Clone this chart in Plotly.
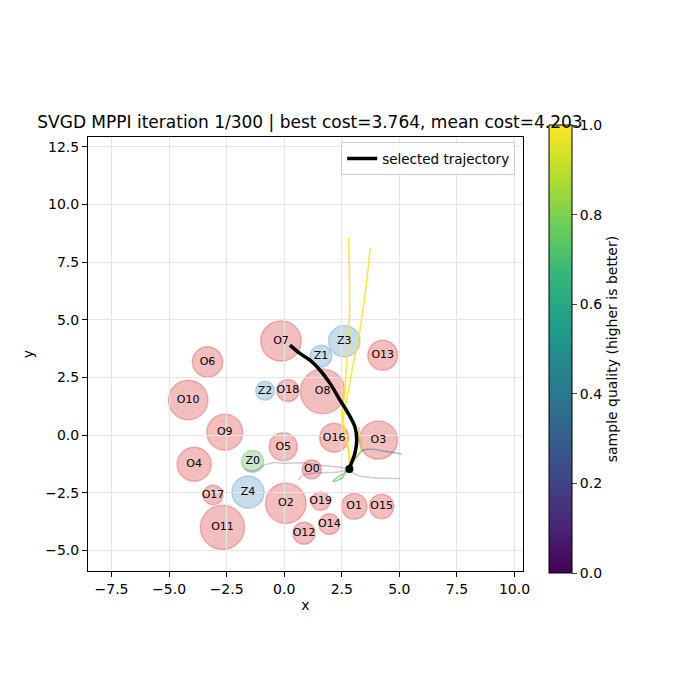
import plotly.graph_objs as go
from plotly.colors import sample_colorscale

# obstacles (red circles)
obs_names = ["O0", "O1", "O2", "O3", "O4", "O5", "O6", "O7", "O8", "O9",
             "O10", "O11", "O12", "O13", "O14", "O15", "O16", "O17", "O18", "O19"]
obs_x = [1.20, 3.04, 0.07, 4.09, -3.91, -0.04, -3.33, -0.14, 1.67, -2.58,
         -4.17, -2.68, 0.86, 4.28, 1.96, 4.23, 2.17, -3.09, 0.16, 1.58]
obs_y = [-1.49, -3.10, -2.96, -0.22, -1.27, -0.51, 3.17, 4.08, 1.89, 0.12,
         1.52, -4.01, -4.26, 3.46, -3.87, -3.10, -0.12, -2.60, 1.93, -2.87]
obs_r = [0.42, 0.56, 0.88, 0.83, 0.74, 0.61, 0.66, 0.88, 0.97, 0.78,
         0.86, 0.96, 0.48, 0.65, 0.45, 0.53, 0.63, 0.43, 0.48, 0.41]

# zones
zone_names = ["Z0", "Z1", "Z2", "Z3", "Z4"]
zone_x = [-1.37, 1.60, -0.83, 2.61, -1.57]
zone_y = [-1.15, 3.42, 1.92, 4.07, -2.48]
zone_r = [0.48, 0.47, 0.41, 0.68, 0.70]
zone_kind = ["green", "blue", "blue", "blue", "blue"]

# robot
robot_x = 2.83
robot_y = -1.47

# sampled trajectories and their quality
sample_x = [
    [2.83, 2.78, 2.54, 2.64, 2.83, 2.80],
    [2.83, 2.83, 2.57, 2.74, 3.00, 3.29, 3.55, 3.74],
    [2.83, 2.93, 3.07, 3.15, 3.22, 3.26],
    [2.83, 3.03, 3.29, 3.37, 3.30],
    [2.83, 2.70, 2.50, 2.20, 2.13, 2.28, 2.57, 2.64, 2.83],
    [2.83, 3.00, 3.22, 3.43, 3.87, 4.45, 5.10],
    [2.83, 2.95, 3.29, 3.87, 4.45, 5.03],
    [2.83, 2.42, 1.84, 1.26, 0.83, 0.61],
    [2.83, 2.13, 1.70, 0.68, 0.10, -0.48, -0.91, -1.20, -1.49, -1.71],
]
sample_y = [
    [-1.47, -0.65, 0.65, 2.09, 4.98, 8.56],
    [-1.47, -0.79, 0.65, 1.66, 3.10, 4.55, 6.42, 8.13],
    [-1.47, -1.37, -0.94, -0.51, -0.07, 0.36],
    [-1.47, -1.08, -0.78, -0.51, -0.20],
    [-1.47, -1.62, -1.73, -1.92, -2.02, -1.98, -1.81, -1.59, -1.47],
    [-1.47, -1.16, -0.87, -0.65, -0.62, -0.72, -0.82],
    [-1.47, -1.62, -1.78, -1.85, -1.88, -1.89],
    [-1.47, -1.59, -1.63, -1.66, -1.73, -1.95],
    [-1.47, -1.37, -1.33, -1.20, -1.23, -1.20, -1.33, -1.52, -1.55, -1.45],
]
sample_quality = [1.0, 1.0, 0.9, 0.88, 0.75, 0.35, 0.05, 0.05, 0.05]

# selected trajectory
sel_x = [2.83, 2.86, 3.07, 3.15, 3.07, 2.78, 2.42, 1.99, 1.55, 1.12, 0.68, 0.25]
sel_y = [-1.47, -1.37, -0.79, -0.22, 0.36, 0.94, 1.52, 2.24, 2.82, 3.25, 3.54, 3.90]

title_text = "SVGD MPPI iteration 1/300 | best cost=3.764, mean cost=4.203"
cbar_ticks = [0.0, 0.2, 0.4, 0.6, 0.8, 1.0]

FONT = "DejaVu Sans"

fig = go.Figure()

shapes = []
for cx, cy, r in zip(obs_x, obs_y, obs_r):
    shapes.append(dict(type="circle", xref="x", yref="y", layer="below",
                       x0=cx - r, x1=cx + r, y0=cy - r, y1=cy + r,
                       fillcolor="rgba(214,39,40,0.3)",
                       line=dict(color="rgba(214,39,40,0.3)", width=1.5)))
zone_fill = {"blue": "rgba(31,119,180,0.25)", "green": "rgba(44,160,44,0.25)"}
zone_line = {"blue": "rgba(31,119,180,0.25)", "green": "rgba(44,160,44,0.25)"}
for cx, cy, r, k in zip(zone_x, zone_y, zone_r, zone_kind):
    shapes.append(dict(type="circle", xref="x", yref="y", layer="below",
                       x0=cx - r, x1=cx + r, y0=cy - r, y1=cy + r,
                       fillcolor=zone_fill[k],
                       line=dict(color=zone_line[k], width=1.5)))

# sample lines, coloured by quality (low ones drawn first)
order = sorted(range(len(sample_quality)), key=lambda i: sample_quality[i])
for i in order:
    q = sample_quality[i]
    c = sample_colorscale("Viridis", [q], colortype="tuple")[0]
    rgb = [int(round(v * 255)) if v <= 1 else int(v) for v in c]
    a = 0.2 + 0.75 * q
    fig.add_trace(go.Scatter(
        x=sample_x[i], y=sample_y[i], mode="lines",
        line=dict(color="rgba(%d,%d,%d,%.2f)" % (rgb[0], rgb[1], rgb[2], a),
                  width=1.5, shape="spline"),
        showlegend=False, hoverinfo="skip"))

fig.add_trace(go.Scatter(
    x=sel_x, y=sel_y, mode="lines", name="selected trajectory",
    line=dict(color="black", width=3.5, shape="spline")))

fig.add_trace(go.Scatter(
    x=[robot_x], y=[robot_y], mode="markers",
    marker=dict(color="black", size=8), showlegend=False))

# labels
fig.add_trace(go.Scatter(
    x=obs_x + zone_x, y=obs_y + zone_y, text=obs_names + zone_names,
    mode="text", textfont=dict(family=FONT, size=11, color="black"),
    showlegend=False, hoverinfo="skip"))

# colorbar holder
fig.add_trace(go.Scatter(
    x=[robot_x], y=[robot_y], mode="markers",
    marker=dict(size=0.1, color=[0.5], colorscale="Viridis", cmin=0, cmax=1,
                showscale=True,
                colorbar=dict(
                    title=dict(text="sample quality (higher is better)", side="right",
                               font=dict(family=FONT, size=14)),
                    x=1.06, xanchor="left", xpad=0, ypad=0,
                    y=0.5115, yanchor="middle", len=1.032, lenmode="fraction",
                    thickness=23, outlinewidth=1, outlinecolor="black",
                    tickvals=cbar_ticks, ticktext=["%.1f" % t for t in cbar_ticks],
                    ticks="outside", ticklen=5,
                    tickfont=dict(family=FONT, size=14))),
    showlegend=False, hoverinfo="skip"))

axis_common = dict(showline=True, mirror=True, linecolor="black", linewidth=1,
                   ticks="outside", ticklen=5, tickcolor="black",
                   showgrid=True, gridcolor="#e6e6e6", zeroline=False,
                   tickfont=dict(family=FONT, size=14, color="black"),
                   dtick=2.5, tick0=0, tickformat=".1f")

# page body adds an 8px offset, so the figure is 692 wide/high
fig.update_layout(
    width=692, height=692,
    margin=dict(l=80, r=177, t=129, b=129),
    plot_bgcolor="white", paper_bgcolor="white",
    font=dict(family=FONT, color="black"),
    title=dict(text=title_text, x=0.4364, xanchor="center",
               y=0.835, yref="container", yanchor="middle",
               font=dict(family=FONT, size=17, color="black")),
    xaxis=dict(axis_common, range=[-8.52, 10.37],
               title=dict(text="x", font=dict(family=FONT, size=14), standoff=4)),
    yaxis=dict(axis_common, range=[-5.90, 12.93],
               title=dict(text="y", font=dict(family=FONT, size=14), standoff=8)),
    shapes=shapes,
    legend=dict(x=0.982, y=0.988, xanchor="right", yanchor="top",
                bgcolor="rgba(255,255,255,0.8)", bordercolor="#cccccc", borderwidth=1,
                font=dict(family=FONT, size=13.5), tracegroupgap=0),
)

fig.write_html("out.html")
